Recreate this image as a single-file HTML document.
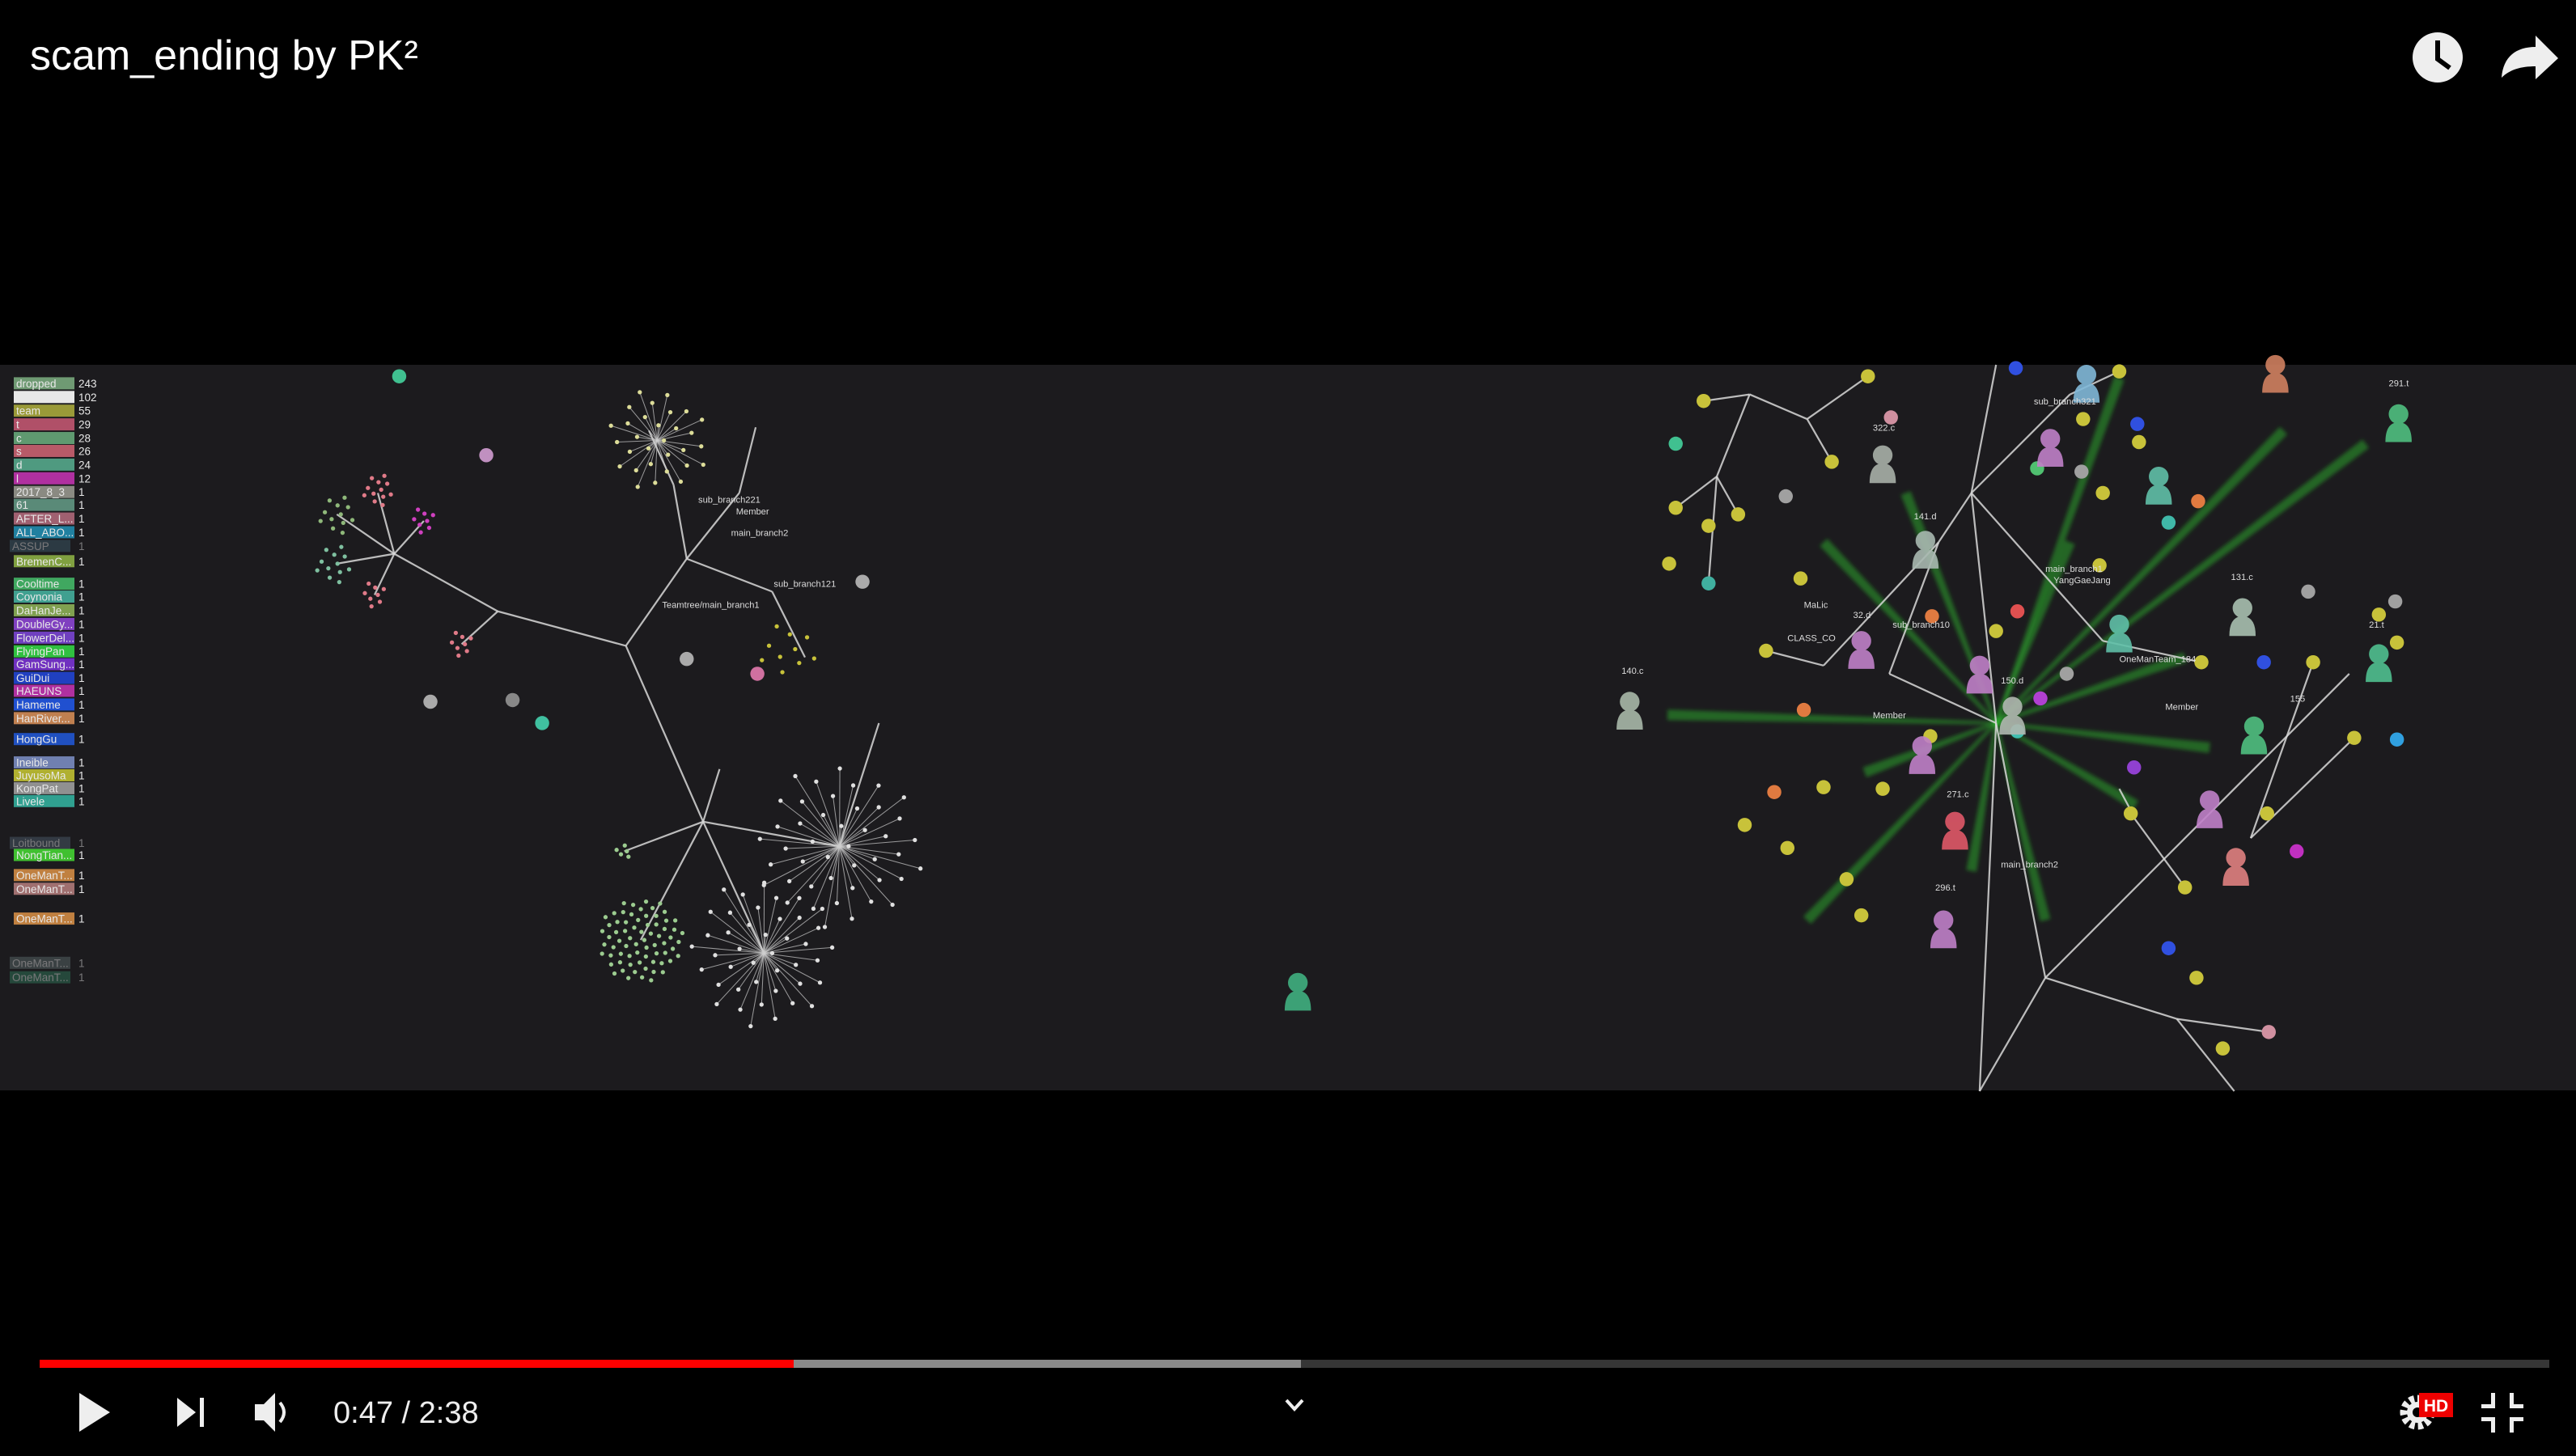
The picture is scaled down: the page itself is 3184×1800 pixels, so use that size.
<!DOCTYPE html>
<html><head><meta charset="utf-8"><style>
html,body{margin:0;padding:0;background:#000;width:3184px;height:1800px;overflow:hidden}
svg{display:block}
text{font-family:"Liberation Sans",sans-serif}
</style></head><body>
<svg id="root" width="3184" height="1800" viewBox="0 0 3184 1800">
<defs><filter id="blur" x="-20%" y="-20%" width="140%" height="140%"><feGaussianBlur stdDeviation="1.2"/></filter></defs>
<rect x="0" y="0" width="3184" height="1800" fill="#000"/>
<rect x="0" y="451" width="3184" height="897" fill="#1c1b1e"/>
<g id="scene" transform="scale(2.0306,2.0316)">
  <g id="streaks" filter="url(#blur)"></g>
  <g id="edges" stroke="#d8d8d8" stroke-width="1.1" fill="none"></g>
  <g id="nodes"></g>
  <g id="labels" font-size="5.5" fill="#ddd"></g>
</g>
<g id="legend"></g>
<text x="37" y="86" font-size="52" fill="#fff">scam_ending by PK²</text>
<g>
  <circle cx="3013" cy="71" r="31" fill="#eee"/>
  <path d="M3013 50 V73 L3028 84" stroke="#000" stroke-width="6" fill="none"/>
</g>
<g>
  <path d="M3122 96 C3124 70 3140 58 3164 58 V44 L3192 72 L3164 98 V82 C3146 82 3132 86 3122 96 Z" fill="#eee" transform="translate(-30,0)"/>
</g>
<g>
  <rect x="49" y="1681" width="3102" height="10" fill="#363636"/>
  <rect x="49" y="1681" width="1559" height="10" fill="#8a8a8a"/>
  <rect x="49" y="1681" width="932" height="10" fill="#f00"/>
</g>
<path d="M98 1722 L136 1746 L98 1770 Z" fill="#eee"/>
<g fill="#eee">
  <path d="M219 1728 L242 1746 L219 1764 Z"/><rect x="247" y="1728" width="5" height="36"/>
</g>
<g fill="#eee">
  <path d="M315 1736 H326 L340 1722 V1770 L326 1756 H315 Z"/>
  <path d="M346 1734 Q356 1746 346 1758" stroke="#eee" stroke-width="4" fill="none"/>
</g>
<text x="412" y="1759" font-size="38" fill="#eee">0:47 / 2:38</text>
<path d="M1590 1731 L1600 1742 L1610 1731" stroke="#eee" stroke-width="4" fill="none"/>
<g>
  <circle cx="2988" cy="1746" r="17" fill="none" stroke="#eee" stroke-width="9" stroke-dasharray="6 4"/>
  <circle cx="2988" cy="1746" r="13" fill="#eee"/>
  <circle cx="2988" cy="1746" r="6" fill="#000"/>
  <rect x="2990" y="1722" width="42" height="30" fill="#e00"/>
  <text x="3011" y="1745" font-size="21" font-weight="bold" fill="#fff" text-anchor="middle">HD</text>
</g>
<g fill="#eee">
  <rect x="3067" y="1736" width="17" height="5"/><rect x="3079" y="1722" width="5" height="19"/>
  <rect x="3102" y="1736" width="17" height="5"/><rect x="3102" y="1722" width="5" height="19"/>
  <rect x="3067" y="1752" width="17" height="5"/><rect x="3079" y="1752" width="5" height="19"/>
  <rect x="3102" y="1752" width="17" height="5"/><rect x="3102" y="1752" width="5" height="19"/>
</g>
</svg>
<script>
const NS="http://www.w3.org/2000/svg";
// legend data
const legendLabels=["dropped","","team","t","c","s","d","l","2017_8_3","61","AFTER_L...","ALL_ABO...","ASSUP","BremenC...","Cooltime","Coynonia","DaHanJe...","DoubleGy...","FlowerDel...","FlyingPan","GamSung...","GuiDui","HAEUNS","Hameme","HanRiver...","HongGu","Ineible","JuyusoMa","KongPat","Livele","Loitbound","NongTian...","OneManT...","OneManT...","OneManT...","OneManT...","OneManT..."];
const legendValues=[243,102,55,29,28,26,24,12,1,1,1,1,1,1,1,1,1,1,1,1,1,1,1,1,1,1,1,1,1,1,1,1,1,1,1,1,1];
const legendColors=["#6f9a73","#e8e8e8","#9a9a38","#b05068","#5f9a70","#b85a68","#4f9a80","#b030a0","#8a8a82","#5a8a78","#a06070","#2080a0","#406070","#80a040","#40a860","#40a090","#80a050","#8040c0","#7040c0","#30c040","#7030c0","#2040c0","#b030a0","#2050d0","#c08050","#2050c0","#7080b0","#b0b030","#909090","#30a090","#506070","#40c030","#c08040","#a07070","#c08040","#607070","#308060"];
const legendRowY=[48,82,116,150,184,216,250,284,318,350,384,418,452,490,546,578,612,646,680,714,746,780,812,846,880,932,990,1022,1054,1086,1190,1220,1270,1304,1378,1488,1524];
const legendFaded=[0,0,0,0,0,0,0,0,0,0,0,0,1,0,0,0,0,0,0,0,0,0,0,0,0,0,0,0,0,0,1,0,0,0,0,1,1];
const lg=document.getElementById('legend');
legendLabels.forEach((lab,i)=>{
  const y=450+legendRowY[i]/2.01-7.5, f=legendFaded[i], x0=f?12:17;
  const g=document.createElementNS(NS,'g');
  
  
  g.setAttribute('opacity',f?0.45:1);
  const r=document.createElementNS(NS,'rect');
  r.setAttribute('x',x0);r.setAttribute('y',y);r.setAttribute('width',75);r.setAttribute('height',15);r.setAttribute('fill',legendColors[i]);
  g.appendChild(r);
  const t=document.createElementNS(NS,'text');
  t.setAttribute('x',x0+3);t.setAttribute('y',y+12.5);t.setAttribute('font-size',13.5);t.setAttribute('fill','#e8e8e8');t.textContent=lab;
  g.appendChild(t);
  const v=document.createElementNS(NS,'text');
  v.setAttribute('x',97);v.setAttribute('y',y+12.5);v.setAttribute('font-size',13.5);v.setAttribute('fill','#e8e8e8');v.textContent=legendValues[i];
  g.appendChild(v);
  lg.appendChild(g);
});
// scene data (display coords)
const edgeList=[[381,393,303,372],[303,372,240,337],[240,337,205,313],[240,337,230,300],[240,337,258,317],[240,337,205,343],[240,337,228,362],[303,372,281,392],[381,393,418,340],[418,340,410,295],[410,295,395,262],[418,340,450,300],[450,300,460,260],[381,393,428,500],[428,500,511,515],[428,500,465,580],[428,500,390,572],[428,500,380,518],[428,500,438,468],[511,515,535,440],[418,340,470,360],[470,360,490,400],
[1215,222,1200,300],[1200,300,1215,440],[1215,440,1205,664],[1215,440,1245,595],[1245,595,1205,664],[1245,595,1325,620],[1325,620,1360,664],[1245,595,1340,500],[1340,500,1430,410],[1200,300,1180,330],[1180,330,1110,405],[1110,405,1075,396],[1180,330,1150,410],[1150,410,1215,440],[1200,300,1260,240],[1260,240,1290,226],[1200,300,1280,390],[1280,390,1340,403],[1037,244,1065,240],[1065,240,1100,255],[1100,255,1137,229],[1065,240,1045,290],[1045,290,1020,309],[1045,290,1040,355],[1045,290,1058,313],[1100,255,1115,281],[1370,510,1433,449],[1370,510,1408,403],[1325,620,1381,628],[1290,480,1298,495],[1297,495,1330,540]];
const dotX=[1037,1137,1290,1058,1040,1020,1016,1115,1075,1096,1146,1124,1133,1215,1175,1280,1268,1278,1302,1340,1297,1330,1380,1408,1433,1448,1459,1353,1337,1088,1062,1110,1020,1040,1240,1320,1228,1087,1267,1405,1458,1258,1080,1098,1176,1338,1227,1301,1378,1320,1459,1398,1242,1299,1228,1151,1381,243,296,525,418,262,461,330,312];
const dotY=[244,229,226,313,320,309,343,281,396,352,480,535,557,384,448,300,255,344,269,403,495,540,495,403,449,374,391,638,595,516,502,479,270,355,285,318,445,302,287,360,366,410,482,432,375,305,224,258,403,577,450,518,425,467,372,254,628,229,277,354,401,427,410,440,426];
const dotC=["#c8c23a","#c8c23a","#c8c23a","#c8c23a","#c8c23a","#c8c23a","#c8c23a","#c8c23a","#c8c23a","#c8c23a","#c8c23a","#c8c23a","#c8c23a","#c8c23a","#c8c23a","#c8c23a","#c8c23a","#c8c23a","#c8c23a","#c8c23a","#c8c23a","#c8c23a","#c8c23a","#c8c23a","#c8c23a","#c8c23a","#c8c23a","#c8c23a","#c8c23a","#c8c23a","#c8c23a","#c8c23a","#40c090","#40b0a0","#50c070","#40b8a8","#40c0b0","#a0a0a0","#a0a0a0","#a0a0a0","#a0a0a0","#a0a0a0","#e07a40","#e07a40","#e07a40","#e07a40","#3050e0","#3050e0","#3050e0","#3050e0","#30a0e0","#c030c0","#b040d0","#9040d0","#e05050","#d090a0","#d090a0","#40c090","#c090c0","#aaa","#aaa","#aaa","#d070a0","#40c0a0","#888"];
const personX=[1146,1248,1270,1314,1172,1133,1225,1170,1205,1190,1183,1290,1365,1372,1345,1361,1448,1460,992,1385,790];
const personY=[282,272,233,295,334,395,435,459,410,505,565,385,375,447,492,527,403,257,432,227,603];
const personC=["#a8b0a8","#c080c8","#80b8d8","#60c0a8","#a8b8b0","#c080c8","#b0b8b0","#c080c8","#c080c8","#e05868","#c080c8","#60c0a8","#a8c0b0","#50c080","#c080c8","#e08080","#50c090","#50c080","#a8b8a8","#d08060","#40b080"];
const clusterX=[205,230,258,203,228,281,511,465,390,380,400,480];
const clusterY=[313,298,317,343,362,392,515,580,572,518,268,395];
const clusterR=[12,10,8,12,8,8,52,46,26,5,32,18];
const clusterN=[12,12,8,12,8,8,44,42,70,5,30,10];
const clusterC=["#8fb87a","#e07a88","#d040c0","#7fc0a0","#e07a88","#e07a88","#e0e0e0","#e0e0e0","#9ccc90","#9ccc90","#dddd99","#c8c23a"];
const streakEnds=[[1015,435],[1110,330],[1290,230],[1390,262],[1440,270],[1345,455],[1245,560],[1200,530],[1300,490],[1135,470],[1100,560],[1160,300],[1330,400],[1260,330]];
const streakHub=[1215,440];
const labelText=["sub_branch321","322.c","141.d","main_branch1","YangGaeJang","sub_branch10","32.d","MaLic","CLASS_CO","OneManTeam_184","150.d","Member","Member","271.c","296.t","131.c","21.t","155","140.c","291.t","main_branch2","Teamtree/main_branch1","sub_branch121","main_branch2","Member","sub_branch221"];
const labelX=[1238,1140,1165,1245,1250,1152,1128,1098,1088,1290,1218,1140,1318,1185,1178,1358,1442,1394,987,1454,1218,403,471,445,448,425];
const labelY=[246,262,316,348,355,382,376,370,390,403,416,437,432,485,542,353,382,427,410,235,528,370,357,326,313,306];

const E=document.getElementById('edges'),N=document.getElementById('nodes'),L=document.getElementById('labels'),S=document.getElementById('streaks');
function el(tag,attrs,parent){const e=document.createElementNS(NS,tag);for(const k in attrs)e.setAttribute(k,attrs[k]);parent.appendChild(e);return e;}
streakEnds.forEach(p=>{
  const [hx,hy]=streakHub,dx=p[0]-hx,dy=p[1]-hy,len=Math.hypot(dx,dy),nx=-dy/len,ny=dx/len,w=3.2;
  const pg=el('polygon',{points:`${hx+nx*w*0.3},${hy+ny*w*0.3} ${p[0]+nx*w},${p[1]+ny*w} ${p[0]-nx*w},${p[1]-ny*w} ${hx-nx*w*0.3},${hy-ny*w*0.3}`,fill:'#2ec02e',opacity:0.45},S);
  
  
});
edgeList.forEach(e=>{
  const l=el('line',{x1:e[0],y1:e[1],x2:e[2],y2:e[3],opacity:0.85},E);
  
  
});
clusterX.forEach((cx,i)=>{
  const cy=clusterY[i],R=clusterR[i],n=clusterN[i];
  for(let k=0;k<n;k++){
    const a=k*2.39996, r=R*Math.sqrt((k+0.5)/n), x=cx+r*Math.cos(a), y=cy+r*Math.sin(a);
    if(R>20&&i!==8) el('line',{x1:cx,y1:cy,x2:x,y2:y,stroke:'#cfcfcf','stroke-width':0.5,opacity:0.7},E);
    const c=el('circle',{cx:x,cy:y,r:1.3,fill:clusterC[i]},N);
    
    
  }
});
dotX.forEach((x,i)=>{
  const c=el('circle',{cx:x,cy:dotY[i],r:4.3,fill:dotC[i]},N);
  
  
});
personX.forEach((x,i)=>{
  const y=personY[i];
  const g=el('g',{fill:personC[i],opacity:0.9},N);
  
  
  el('circle',{cx:x,cy:y-5,r:6},g);
  el('path',{d:`M${x-8} ${y+12} Q${x-8} ${y} ${x} ${y} Q${x+8} ${y} ${x+8} ${y+12} Z`},g);
});
labelText.forEach((t,i)=>{
  const tx=el('text',{x:labelX[i],y:labelY[i]},L);
  
  
  tx.textContent=t;
});
</script>
</body></html>
